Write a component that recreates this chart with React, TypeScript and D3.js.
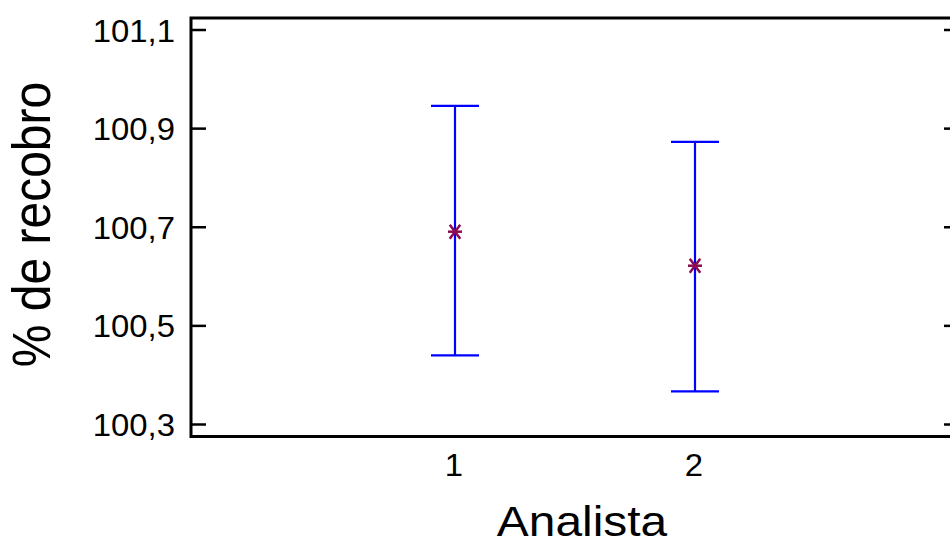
import React from "react";
import * as d3 from "d3";

const categories = [1, 2];
const means = [100.691, 100.622];
const upper = [100.946, 100.873];
const lower = [100.440, 100.367];
const yTicks = [100.3, 100.5, 100.7, 100.9, 101.1];
const xLabel = "Analista";
const yLabel = "% de recobro";

const W = 950;
const H = 544;
const frame = { left: 191, top: 18, right: 959, bottom: 436.5 };
const FONT = "'Liberation Sans', Arial, sans-serif";

export default function App() {
  const x = d3.scaleLinear().domain([-0.1, 3.1]).range([frame.left, frame.right]);
  const y = d3.scaleLinear().domain([100.3, 101.1]).range([424.5, 30]);
  const fmt = (v: number) => d3.format(".1f")(v).replace(".", ",");
  const capHalf = 24;
  const m = 7;
  const markerColor = "#8B0A50";

  return (
    <svg width={W} height={H} style={{ position: "absolute", left: 0, top: 0, background: "#fff" }}>
      <rect x={0} y={0} width={W} height={H} fill="#fff" />
      <rect
        x={frame.left}
        y={frame.top}
        width={frame.right - frame.left}
        height={frame.bottom - frame.top}
        fill="none"
        stroke="#000"
        strokeWidth={3}
      />
      {yTicks.map((t) => (
        <g key={t}>
          <line x1={frame.left} x2={frame.left + 15} y1={y(t)} y2={y(t)} stroke="#000" strokeWidth={2.5} />
          <line x1={frame.right - 15} x2={frame.right} y1={y(t)} y2={y(t)} stroke="#000" strokeWidth={2.5} />
          <text
            transform={`translate(175,${y(t) + 11.5}) scale(1.06,1)`}
            textAnchor="end"
            fontFamily={FONT}
            fontSize={31}
            fill="#000"
          >
            {fmt(t)}
          </text>
        </g>
      ))}
      {categories.map((c) => (
        <text
          key={c}
          transform={`translate(${x(c) - 1},476) scale(1.06,1)`}
          textAnchor="middle"
          fontFamily={FONT}
          fontSize={31}
          fill="#000"
        >
          {c}
        </text>
      ))}
      {categories.map((c, i) => (
        <g key={"e" + c} stroke="#0000FF" strokeWidth={2.2}>
          <line x1={x(c)} x2={x(c)} y1={y(upper[i])} y2={y(lower[i])} />
          <line x1={x(c) - capHalf} x2={x(c) + capHalf} y1={y(upper[i])} y2={y(upper[i])} />
          <line x1={x(c) - capHalf} x2={x(c) + capHalf} y1={y(lower[i])} y2={y(lower[i])} />
        </g>
      ))}
      {categories.map((c, i) => {
        const cx = x(c);
        const cy = y(means[i]);
        return (
          <g key={"m" + c} stroke={markerColor} strokeWidth={2.5}>
            <line x1={cx - m} x2={cx + m} y1={cy} y2={cy} />
            <line x1={cx - m * 0.75} x2={cx + m * 0.75} y1={cy - m} y2={cy + m} />
            <line x1={cx - m * 0.75} x2={cx + m * 0.75} y1={cy + m} y2={cy - m} />
          </g>
        );
      })}
      <text
        transform={`translate(582,535.5) scale(1.14,1)`}
        textAnchor="middle"
        fontFamily={FONT}
        fontSize={42}
        fill="#000"
      >
        {xLabel}
      </text>
      <text
        transform={`translate(50,224.5) scale(1.12,1) rotate(-90)`}
        textAnchor="middle"
        fontFamily={FONT}
        fontSize={48}
        fill="#000"
      >
        {yLabel}
      </text>
    </svg>
  );
}
